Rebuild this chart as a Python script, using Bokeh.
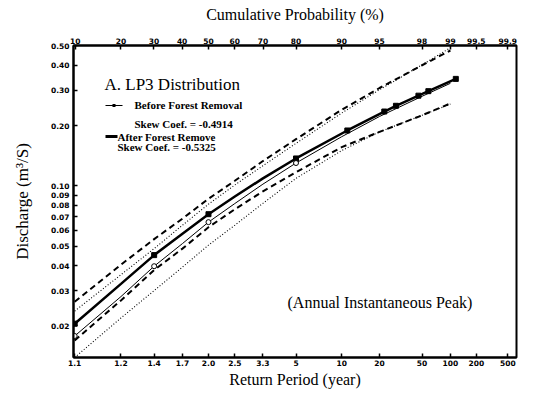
from statistics import NormalDist
from bokeh.plotting import figure
from bokeh.models import Range1d, FixedTicker, LinearAxis, Label, BoxAnnotation
from bokeh.embed import file_html
from bokeh.resources import INLINE

# ---- data ----
# return periods (years) at which the curves are read
T_curve = [1.11, 1.25, 1.43, 1.67, 2.0, 2.5, 3.33, 5, 10, 20, 50, 100]
before_q = [0.0178, 0.0280, 0.0397, 0.0515, 0.0659, 0.0816, 0.102, 0.130, 0.176, 0.222, 0.280, 0.325]
upper_dash = [0.0264, 0.0404, 0.0542, 0.0686, 0.0862, 0.106, 0.133, 0.171, 0.240, 0.308, 0.400, 0.474]
lower_dash = [0.0169, 0.0268, 0.0380, 0.0486, 0.0621, 0.0764, 0.0939, 0.117, 0.156, 0.186, 0.225, 0.258]
upper_dot = [0.0237, 0.0360, 0.0486, 0.0636, 0.0810, 0.101, 0.126, 0.163, 0.231, 0.302, 0.402, 0.489]
lower_dot = [0.0139, 0.0219, 0.0300, 0.0393, 0.0506, 0.0636, 0.0818, 0.109, 0.150, 0.186, 0.225, 0.256]

# after forest removal curve (passes through its plotted points)
T_after = [1.11, 1.25, 1.43, 1.67, 2.0, 2.5, 3.33, 5, 11, 22, 28, 46, 58, 115]
after_q = [0.0205, 0.0324, 0.0451, 0.0577, 0.0722, 0.0884, 0.109, 0.137, 0.189, 0.235, 0.251, 0.282, 0.297, 0.342]

# plotted points
T_after_pts = [1.11, 1.43, 2.0, 5, 11, 22, 28, 46, 58, 115]
Q_after_pts = [0.0205, 0.0451, 0.0722, 0.137, 0.189, 0.235, 0.251, 0.282, 0.297, 0.342]
T_before_pts = [1.11, 1.43, 2.0, 5]
Q_before_pts = [0.0178, 0.0397, 0.0659, 0.130]

# axis ticks
rp_ticks = [1.11, 1.25, 1.43, 1.67, 2.0, 2.5, 3.33, 5, 10, 20, 50, 100, 200, 500]
rp_labels = ["1.1", "1.2", "1.4", "1.7", "2.0", "2.5", "3.3", "5", "10", "20", "50", "100", "200", "500"]
pct_ticks = [10, 20, 30, 40, 50, 60, 70, 80, 90, 95, 98, 99, 99.5, 99.8]
pct_labels = ["10", "20", "30", "40", "50", "60", "70", "80", "90", "95", "98", "99", "99.5", "99.9"]
q_ticks = [0.02, 0.03, 0.04, 0.05, 0.06, 0.07, 0.08, 0.09, 0.10, 0.20, 0.30, 0.40, 0.50]
q_labels = ["0.02", "0.03", "0.04", "0.05", "0.06", "0.07", "0.08", "0.09", "0.10", "0.20", "0.30", "0.40", "0.50"]

nd = NormalDist()
def zT(T):
    return nd.inv_cdf(1.0 - 1.0 / T)
def zP(pc):
    return nd.inv_cdf(pc / 100.0)

SERIF = "Liberation Serif"
TICKF = "DejaVu Sans"

p = figure(frame_width=443, frame_height=312, y_axis_type="log",
           x_range=Range1d(-1.298, 2.962), y_range=Range1d(0.0139, 0.502),
           output_backend="svg", toolbar_location=None,
           min_border_left=73, min_border_right=2, min_border_top=45, min_border_bottom=31,
           background_fill_color="white", border_fill_color="white")
p.xgrid.visible = False
p.ygrid.visible = False
p.outline_line_color = "black"
p.outline_line_width = 2
p.outline_line_alpha = 1

def style_axis(ax):
    ax.axis_line_width = 2
    ax.axis_line_color = "black"
    ax.major_tick_in = 4
    ax.major_tick_out = 0
    ax.major_tick_line_width = 1.5
    ax.minor_tick_line_color = None
    ax.major_label_text_font = TICKF
    ax.major_label_text_font_style = "bold"
    ax.major_label_text_font_size = "7.5px"
    ax.major_label_text_color = "black"
    ax.major_label_standoff = 2
    ax.axis_label_text_font = SERIF
    ax.axis_label_text_font_style = "normal"
    ax.axis_label_text_color = "black"

# bottom axis: return period
xz = [zT(t) for t in rp_ticks]
bax = p.xaxis[0]
bax.ticker = FixedTicker(ticks=xz)
bax.major_label_overrides = {v: s for v, s in zip(xz, rp_labels)}
style_axis(bax)
bax.axis_label = "Return Period (year)"
bax.axis_label_text_font_size = "16px"
bax.axis_label_standoff = 2

# top axis: cumulative probability
pz = [zP(v) for v in pct_ticks]
tax = LinearAxis(ticker=FixedTicker(ticks=pz),
                 major_label_overrides={v: s for v, s in zip(pz, pct_labels)})
style_axis(tax)
tax.axis_label = "Cumulative Probability (%)"
tax.axis_label_text_font_size = "16px"
tax.axis_label_standoff = 12
p.add_layout(tax, "above")

# left axis: discharge
lax = p.yaxis[0]
lax.ticker = FixedTicker(ticks=q_ticks)
lax.major_label_overrides = {v: s for v, s in zip(q_ticks, q_labels)}
style_axis(lax)
lax.major_label_standoff = 4
lax.axis_label = "Discharge (m\u00b3/S)"
lax.axis_label_text_font_size = "17px"
lax.axis_label_standoff = 16

# ---- curves ----
xc = [zT(t) for t in T_curve]
p.line(xc, upper_dash, line_color="black", line_width=2, line_dash="6 4")
p.line(xc, lower_dash, line_color="black", line_width=2, line_dash="6 4")
p.line(xc, upper_dot, line_color="black", line_width=1.1, line_dash="1 2")
p.line(xc, lower_dot, line_color="black", line_width=1.1, line_dash="1 2")
p.line(xc, before_q, line_color="black", line_width=1)
p.line([zT(t) for t in T_after], after_q, line_color="black", line_width=2.5)

p.scatter([zT(t) for t in T_after_pts], Q_after_pts, marker="square", size=5,
          fill_color="black", line_color="black")
p.scatter([zT(t) for t in T_before_pts], Q_before_pts, marker="circle", size=5,
          fill_color="white", line_color="black", line_width=1)

# ---- legend / annotations ----
def lab(x, y, text, size, style="normal"):
    p.add_layout(Label(x=x, y=y, x_units="screen", y_units="screen", text=text,
                       text_font=SERIF, text_font_size=size, text_font_style=style,
                       text_color="black", text_baseline="middle", text_align="left"))

def sample(left, right, yc, h):
    p.add_layout(BoxAnnotation(left=left, right=right, bottom=yc - h / 2, top=yc + h / 2,
                               left_units="screen", right_units="screen",
                               bottom_units="screen", top_units="screen",
                               fill_color="black", fill_alpha=1, line_color=None))

lab(31, 273, "A. LP3 Distribution", "17px")
sample(32, 49, 252, 1.2)
sample(39, 42, 252, 3)
lab(61, 253, "Before Forest Removal", "11px", "bold")
lab(61, 234, "Skew Coef. = -0.4914", "11px", "bold")
sample(32, 44, 221, 3)
lab(44, 221, "After Forest Remove", "11px", "bold")
lab(44, 211, "Skew Coef. = -0.5325", "11px", "bold")
lab(214, 55, "(Annual Instantaneous Peak)", "16px")

open("out.html", "w").write(file_html(p, INLINE))
